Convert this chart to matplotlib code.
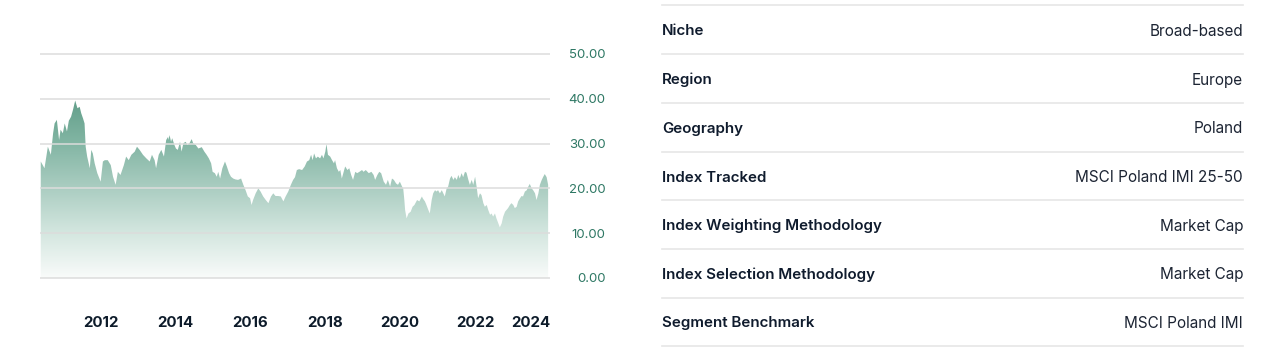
import numpy as np
import matplotlib
matplotlib.use("Agg")
import matplotlib.pyplot as plt
from matplotlib.colors import LinearSegmentedColormap
from matplotlib.lines import Line2D

# price history (decimal year, value)
years = [
    2010.40, 2010.50, 2010.59, 2010.67, 2010.73, 2010.77, 2010.83, 2010.89, 2010.93, 2010.99,
    2011.04, 2011.10, 2011.15, 2011.21, 2011.26, 2011.32, 2011.38, 2011.44, 2011.48, 2011.53,
    2011.57, 2011.60, 2011.64, 2011.71, 2011.75, 2011.79, 2011.84, 2011.91, 2012.00, 2012.06,
    2012.11, 2012.19, 2012.27, 2012.33, 2012.40, 2012.46, 2012.53, 2012.62, 2012.68, 2012.75,
    2012.82, 2012.91, 2012.97, 2013.04, 2013.13, 2013.22, 2013.31, 2013.37, 2013.44, 2013.48,
    2013.55, 2013.62, 2013.69, 2013.75, 2013.80,
    2013.81, 2013.84, 2013.88, 2013.91, 2013.97, 2014.01, 2014.06, 2014.12, 2014.16, 2014.21,
    2014.27, 2014.32, 2014.38, 2014.43, 2014.47, 2014.54, 2014.61, 2014.70, 2014.77, 2014.83,
    2014.89, 2014.95, 2014.99, 2015.05, 2015.10, 2015.14, 2015.19, 2015.25, 2015.32, 2015.37,
    2015.43, 2015.48, 2015.54, 2015.60, 2015.67, 2015.75, 2015.81, 2015.87, 2015.93, 2015.99,
    2016.03, 2016.07, 2016.14, 2016.21, 2016.27, 2016.34, 2016.41, 2016.48, 2016.55, 2016.61,
    2016.67, 2016.74, 2016.81, 2016.88, 2016.94, 2017.01, 2017.08, 2017.14, 2017.19,
    2017.24, 2017.30, 2017.38, 2017.45, 2017.51, 2017.57, 2017.62, 2017.66, 2017.70, 2017.75,
    2017.80, 2017.86, 2017.91, 2017.95, 2018.00, 2018.03, 2018.07, 2018.13, 2018.18, 2018.23,
    2018.26, 2018.31, 2018.36, 2018.40, 2018.44, 2018.49, 2018.53, 2018.59, 2018.64, 2018.69,
    2018.74, 2018.80, 2018.85, 2018.91, 2018.98, 2019.02, 2019.08, 2019.16, 2019.23, 2019.29,
    2019.33, 2019.39, 2019.44, 2019.49, 2019.56, 2019.62, 2019.67, 2019.73, 2019.78, 2019.83,
    2019.89, 2019.94, 2019.99, 2020.05, 2020.08, 2020.11, 2020.13, 2020.17, 2020.22, 2020.28,
    2020.33, 2020.38, 2020.45, 2020.51, 2020.58,
    2020.60, 2020.66, 2020.70, 2020.75, 2020.79, 2020.84, 2020.88, 2020.93, 2020.97, 2021.01,
    2021.06, 2021.11, 2021.15, 2021.19, 2021.24, 2021.28, 2021.33, 2021.37, 2021.42, 2021.46,
    2021.51, 2021.55, 2021.59, 2021.64, 2021.68, 2021.73, 2021.77, 2021.82, 2021.86, 2021.91,
    2021.95, 2022.00, 2022.04, 2022.08, 2022.13, 2022.17, 2022.22, 2022.26, 2022.31, 2022.35,
    2022.40, 2022.44, 2022.48, 2022.53, 2022.57, 2022.62, 2022.66, 2022.71, 2022.75, 2022.80,
    2022.84, 2022.88, 2022.93, 2022.97, 2023.02, 2023.06, 2023.11, 2023.15, 2023.20, 2023.24,
    2023.28, 2023.33, 2023.38, 2023.42, 2023.46, 2023.51, 2023.55, 2023.60, 2023.64, 2023.69,
    2023.73, 2023.78, 2023.82, 2023.86, 2023.91, 2023.95,
]
prices = [
    26.0, 24.5, 29.3, 27.5, 32.3, 34.5, 35.3, 30.8, 33.1, 32.3,
    34.5, 32.7, 35.1, 36.0, 37.5, 39.6, 37.9, 38.2, 36.8, 35.6,
    34.5, 29.3, 27.1, 24.5, 28.6, 27.8, 25.6, 23.4, 21.5, 26.0,
    26.3, 26.3, 25.2, 22.6, 20.8, 23.7, 23.0, 25.2, 27.1, 26.3,
    27.5, 28.2, 29.3, 28.6, 27.5, 26.7, 26.0, 27.5, 26.3, 24.5,
    27.5, 28.6, 27.1, 30.8, 31.5,
    30.8, 31.9, 30.4, 31.2, 29.7, 28.9, 28.6, 30.4, 28.2, 30.1,
    30.4, 29.7, 30.2, 31.0, 30.1, 29.7, 28.9, 29.2, 28.2, 27.5,
    26.7, 25.6, 23.7, 23.4, 22.6, 23.7, 22.2, 24.5, 26.0, 24.9,
    23.4, 22.6, 22.2, 22.0, 21.9, 22.2, 20.8, 19.6, 18.2, 17.8,
    16.3, 17.4, 18.9, 20.0, 19.3, 18.2, 17.4, 16.7, 18.2, 18.9,
    18.3, 18.3, 18.2, 17.1, 18.2, 19.3, 20.8, 21.9, 22.5,
    24.1, 24.3, 24.1, 24.9, 26.0, 26.3, 27.5, 26.3, 27.8, 26.7,
    27.1, 26.7, 27.5, 26.7, 28.2, 29.9, 27.5, 27.1, 26.3, 25.6,
    26.3, 24.5, 23.7, 24.1, 22.2, 23.7, 24.9, 24.1, 24.5, 23.0,
    21.9, 23.7, 23.4, 23.7, 24.1, 23.7, 24.1, 23.4, 23.7, 23.0,
    21.9, 23.0, 23.7, 23.4, 21.5, 20.8, 21.9, 20.4, 22.2, 21.9,
    21.1, 20.8, 21.5, 20.4, 20.0, 17.4, 15.2, 13.3, 14.4, 14.8,
    15.9, 16.3, 17.4, 17.1, 18.2,
    17.8, 17.1, 16.3, 15.2, 14.4, 17.4, 18.9, 19.6, 19.3, 19.6,
    18.9, 19.6, 18.9, 18.2, 20.0, 20.4, 22.2, 22.8, 21.9, 22.5,
    21.9, 23.0, 22.2, 23.4, 22.5, 23.7, 23.5, 21.9, 20.8, 21.9,
    20.8, 22.6, 20.4, 17.8, 18.9, 18.5, 16.7, 15.9, 16.3, 15.2,
    14.1, 14.4, 13.7, 14.4, 13.3, 12.2, 11.3, 12.2, 13.7, 14.8,
    15.2, 15.6, 16.3, 16.7, 16.3, 15.6, 15.9, 17.1, 17.8, 18.3,
    18.2, 19.3, 19.6, 20.4, 21.0, 20.0, 19.6, 18.9, 17.4, 18.9,
    20.8, 21.9, 22.6, 23.2, 22.5, 20.8,
]
year_ticks = [2012, 2014, 2016, 2018, 2020, 2022, 2024]
value_ticks = [0, 10, 20, 30, 40, 50]

row_labels = ["Niche", "Region", "Geography", "Index Tracked",
              "Index Weighting Methodology", "Index Selection Methodology",
              "Segment Benchmark"]
row_values = ["Broad-based", "Europe", "Poland", "MSCI Poland IMI 25-50",
              "Market Cap", "Market Cap", "MSCI Poland IMI"]

W, H = 1280, 349
fig = plt.figure(figsize=(W / 100, H / 100), dpi=100)
fig.patch.set_facecolor("white")

# chart area: x 40..550 px, value 0 at y=278, 50 at y=54
px_per_unit = 224 / 50
pad_u = 0.5
bot = (H - (278 + pad_u * px_per_unit)) / H
top = (H - (54 - pad_u * px_per_unit)) / H
ax = fig.add_axes([40 / W, bot, 510 / W, top - bot])

x0, x1 = 2010.38, 2024.0

poly = ax.fill_between(years, prices, 0, color="none", lw=0)
cmap = LinearSegmentedColormap.from_list(
    "fade", ["#f9fbfa", "#d3e6df", "#a9ccc0", "#80b4a2", "#5f9c87"])
grad = np.linspace(0, 1, 256).reshape(-1, 1)
img = ax.imshow(grad, extent=[x0, x1, 0, 41], origin="lower", aspect="auto",
                cmap=cmap, zorder=1, interpolation="bilinear")
img.set_clip_path(poly.get_paths()[0], poly.get_transform())

for v in value_ticks:
    ax.axhline(v, color="#dcdcdc", lw=1.1, zorder=2)

ax.set_xlim(x0, x1)
ax.set_ylim(-pad_u, 50 + pad_u)
for s in ax.spines.values():
    s.set_visible(False)

ax.yaxis.tick_right()
ax.set_yticks(value_ticks)
ax.set_yticklabels([f"{v:.2f}" for v in value_ticks])
ax.tick_params(axis="y", length=0, pad=40, labelsize=9.5, labelcolor="#2e7864")
for lab in ax.get_yticklabels():
    lab.set_horizontalalignment("right")
    lab.set_fontfamily("Inter")

ax.set_xticks(year_ticks)
ax.set_xticklabels([str(y) for y in year_ticks])
ax.tick_params(axis="x", length=0, pad=26, labelsize=10.8, labelcolor="#0d1b2a")
for lab in ax.get_xticklabels():
    lab.set_fontfamily("Inter")
    lab.set_fontweight("bold")
ax.get_xticklabels()[-1].set_horizontalalignment("right")

# details table on the right
tx0, tx1 = 662 / W, 1243 / W
line_ys = [5, 54, 103, 152, 200, 249, 298, 346]
for yy in line_ys:
    fig.add_artist(Line2D([tx0, tx1], [1 - yy / H, 1 - yy / H],
                          transform=fig.transFigure, color="#e6e6e6", lw=1.2))
for i, (lab, val) in enumerate(zip(row_labels, row_values)):
    yc = 1 - ((line_ys[i] + line_ys[i + 1]) / 2 + 1.5) / H
    fig.text(tx0, yc, lab, ha="left", va="center", fontsize=10.9,
             family="Inter", weight="semibold", color="#0f1b2d")
    fig.text(tx1, yc, val, ha="right", va="center", fontsize=11,
             family="Inter", color="#1c2433")

fig.savefig("out.png", dpi=100, facecolor="white")
